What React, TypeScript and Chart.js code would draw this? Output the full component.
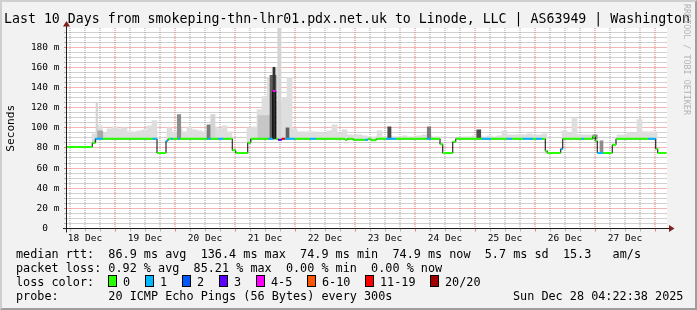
import React, { useEffect, useRef } from "react";
import { Chart, registerables } from "chart.js";

Chart.register(...registerables);

// ---------------- data ----------------
// x values are hours after 18 Dec 00:00
const X_MIN = 4.8;
const X_MAX = 244.8;
const Y_MAX = 199;

const dayLabels = ["18 Dec", "19 Dec", "20 Dec", "21 Dec", "22 Dec", "23 Dec", "24 Dec", "25 Dec", "26 Dec", "27 Dec"];
const dayLabelHours = [12, 36, 60, 84, 108, 132, 156, 180, 204, 228];

const yTickValues = [0, 20, 40, 60, 80, 100, 120, 140, 160, 180];
const yTickLabels = ["0  ", "20 m", "40 m", "60 m", "80 m", "100 m", "120 m", "140 m", "160 m", "180 m"];

// median rtt (ms) as steps: start hour, value, loss class
const medianStart = [
  4.8, 14.9, 16.1, 19.1, 39.1, 40.8, 44.4, 45.2, 46.4, 47.2, 49.2, 50.0, 60.9, 62.3, 65.3, 67.3,
  70.9, 72.3, 77.1, 78.3, 85.3, 87.1, 88.3, 89.2, 90.7, 92.0, 96.0, 102.0, 104.4, 116.0, 116.9,
  119.3, 124.0, 125.2, 126.4, 128.4, 132.4, 136.4, 148.7, 150.3, 154.0, 155.1, 159.1, 160.3,
  170.7, 174.4, 180.7, 182.7, 187.2, 191.2, 192.4, 194.8, 196.1, 196.9, 202.3, 203.1, 210.7,
  211.6, 215.1, 216.1, 216.9, 219.3, 222.9, 224.4, 237.3, 240.3, 241.1,
];
const medianValue = [
  81, 85, 89, 89, 89, 75, 87, 89, 89, 89, 89, 89, 89, 89, 89, 89,
  77.6, 75, 85, 89, 89, 136.4, 89, 88, 89, 89, 89, 89, 89, 88, 89,
  88, 88, 89, 87.5, 89, 89, 89, 89, 89, 83.5, 75, 86, 89,
  89, 89, 89, 89, 89, 89, 89, 89, 77, 75, 79, 89, 89,
  89, 91, 87, 75, 75, 83, 89, 89, 79, 75,
];
const medianLoss = [
  0, 0, 1, 0, 1, 0, 1, 0, 1, 0, 1, 0, 1, 0, 1, 0,
  0, 0, 0, 0, 1, 4, 0, 3, 6, 1, 0, 1, 0, 0, 0,
  0, 1, 0, 0, 0, 1, 0, 1, 0, 0, 0, 0, 0,
  1, 0, 1, 0, 1, 0, 1, 0, 0, 0, 1, 0, 1,
  0, 0, 0, 1, 0, 0, 0, 1, 0, 0,
];
const medianEnd = 244.5;

const lossLabels = ["0", "1", "2", "3", "4-5", "6-10", "11-19", "20/20"];

// smoke: upper ping value per 2-hour bucket from the graph start (0 = no smoke)
const smokeBucketHours = 2;
const smokeTop = [
  0, 0, 0, 0, 0, 94, 102, 95, 99, 101, 99, 100, 96, 96, 97, 98, 102, 107, 0, 0,
  100, 96, 99, 96, 101, 98, 97, 96, 102, 101, 99, 102, 96, 0, 0, 0, 100, 101, 118, 131,
  150, 160, 126, 130, 150, 99, 96, 96, 96, 96, 95, 95, 97, 103, 95, 98, 93, 93, 93, 92,
  91, 91, 97, 91, 92, 91, 91, 92, 91, 91, 92, 93, 92, 91, 91, 0, 0, 0, 0, 91,
  91, 92, 92, 91, 92, 91, 92, 97, 93, 93, 93, 93, 94, 93, 93, 94, 0, 0, 0, 97,
  95, 109, 93, 93, 93, 92, 0, 0, 0, 0, 93, 93, 95, 95, 108, 96, 96, 96, 0, 0,
];

// isolated smoke columns: hours, ping range (ms), density level
const spikeStart = [16.4, 17.1, 48.9, 60.8, 62.3, 81.2, 89.1, 86.0, 87.2, 92.4, 133.1, 148.9, 168.7, 215.1, 218.0];
const spikeEnd = [17.1, 19.1, 50.3, 62.3, 64.0, 86.8, 90.4, 88.4, 88.0, 93.6, 134.4, 150.3, 170.3, 216.9, 219.2];
const spikeLow = [89, 89, 89, 89, 89, 89, 89, 89, 89, 89, 89, 89, 89, 89, 75];
const spikeHigh = [125, 97, 113, 103, 113, 112, 199, 152, 160, 100, 101, 101, 98, 93, 87];
const spikeLevel = [0, 1, 2, 3, 0, 7, 0, 4, 6, 4, 5, 3, 5, 2, 2];

// ---------------- styles / layout ----------------
const MONO = "'DejaVu Sans Mono', monospace";
const LOSS_COLORS = ["#26ff00", "#00b8ff", "#0059ff", "#5e00ff", "#ff00ff", "#ff5500", "#ff0000", "#a10000"];
const SHADES = ["#d4d4d4", "#a8a8a8", "#8c8c8c", "#7a7a7a", "#606060", "#4a4a4a", "#303030", "#c6c6c6"];
const SMOKE_COLOR = "#dedede";
const MINOR_GRID = "rgba(143,143,143,0.85)";
const MAJOR_GRID = "rgba(222,79,79,0.8)";
const MINOR_TICK = "rgba(143,143,143,0.6)";
const MAJOR_TICK = "rgba(222,79,79,0.7)";
const PLOT_LEFT = 67;
const PLOT_RIGHT = 667;
const PLOT_TOP = 28;
const PLOT_BOTTOM = 228.5;
const W = 697;
const H = 310;
const PX_PER_HOUR = (PLOT_RIGHT - PLOT_LEFT) / (X_MAX - X_MIN);
const LEGEND_BOX_X = [108, 145, 182, 219, 256, 307, 365, 430];

const TITLE = "Last 10 Days from smokeping-thn-lhr01.pdx.net.uk to Linode, LLC | AS63949 | Washington";
const LINE_MEDIAN = "median rtt:  86.9 ms avg  136.4 ms max  74.9 ms min  74.9 ms now  5.7 ms sd  15.3   am/s";
const LINE_LOSS = "packet loss: 0.92 % avg  85.21 % max  0.00 % min  0.00 % now";
const LINE_PROBE = "probe:       20 ICMP Echo Pings (56 Bytes) every 300s";
const DATE_TEXT = "Sun Dec 28 04:22:38 2025";

const X_GRID: number[] = [];
for (let h = 6; h < X_MAX; h += 6) X_GRID.push(h);
const Y_GRID: number[] = [];
for (let v = 0; v < Y_MAX; v += 5) Y_GRID.push(v);

function medianAt(h: number): number {
  let v = medianValue[0];
  for (let i = 0; i < medianStart.length; i++) {
    if (medianStart[i] <= h) v = medianValue[i];
  }
  return v;
}

function buildDatasets(): any[] {
  const sets: any[] = [];
  const colored: any[] = [];
  for (let i = 0; i < medianStart.length; i++) {
    const end = i + 1 < medianStart.length ? medianStart[i + 1] : medianEnd;
    colored.push({ x: medianStart[i], y: medianValue[i] }, { x: end, y: medianValue[i] });
  }
  sets.push({
    type: "line",
    data: colored,
    order: 0,
    borderWidth: 2,
    borderColor: LOSS_COLORS[0],
    pointRadius: 0,
    tension: 0,
    fill: false,
    borderCapStyle: "butt",
    segment: {
      borderColor: (ctx: any) =>
        ctx.p0DataIndex % 2 === 0 ? LOSS_COLORS[medianLoss[ctx.p0DataIndex / 2]] : "rgba(0,0,0,0)",
    },
  });
  const black = medianStart.map((s, i) => ({ x: s, y: medianValue[i] }));
  black.push({ x: medianEnd, y: medianValue[medianValue.length - 1] });
  sets.push({
    type: "line",
    data: black,
    order: 1,
    borderWidth: 1,
    borderColor: "#000000",
    pointRadius: 0,
    stepped: "before",
    fill: false,
  });
  for (let i = 0; i < spikeStart.length; i++) {
    sets.push({
      type: "bar",
      data: [{ x: (spikeStart[i] + spikeEnd[i]) / 2, y: [spikeLow[i], spikeHigh[i]] }],
      backgroundColor: SHADES[spikeLevel[i]],
      borderWidth: 0,
      barThickness: (spikeEnd[i] - spikeStart[i]) * PX_PER_HOUR,
      stack: "smoke",
      order: 30 - i,
    });
  }
  const smoke: any[] = [];
  smokeTop.forEach((top, k) => {
    if (!top) return;
    const c = X_MIN + k * smokeBucketHours + smokeBucketHours / 2;
    const lo = medianAt(c);
    if (top > lo) smoke.push({ x: c, y: [lo, top] });
  });
  sets.push({
    type: "bar",
    data: smoke,
    backgroundColor: SMOKE_COLOR,
    borderWidth: 0,
    barThickness: smokeBucketHours * PX_PER_HOUR,
    stack: "smoke",
    order: 50,
  });
  return sets;
}

const bgPlugin = {
  id: "plotbg",
  beforeDraw(chart: any) {
    const { left, right, top, bottom } = chart.chartArea;
    const ctx = chart.ctx;
    ctx.save();
    ctx.fillStyle = "#ffffff";
    ctx.fillRect(left, top, right - left, bottom - top);
    ctx.restore();
  },
};

const gridPlugin = {
  id: "rrdgrid",
  beforeDatasetsDraw(chart: any) {
    const { left, right, top, bottom } = chart.chartArea;
    const xs = chart.scales.x;
    const ys = chart.scales.y;
    const ctx = chart.ctx;
    ctx.save();
    ctx.lineWidth = 1;
    X_GRID.forEach((h) => {
      const p = xs.getPixelForValue(h);
      const major = h % 24 === 0;
      ctx.strokeStyle = major ? MAJOR_GRID : MINOR_GRID;
      ctx.setLineDash([1, 1]);
      ctx.beginPath();
      ctx.moveTo(Math.round(p), top);
      ctx.lineTo(Math.round(p), bottom);
      ctx.stroke();
      ctx.setLineDash([]);
      ctx.strokeStyle = major ? MAJOR_TICK : MINOR_TICK;
      const pt = Math.floor(p + 0.001) + 0.5;
      ctx.beginPath();
      ctx.moveTo(pt, bottom);
      ctx.lineTo(pt, bottom + 3);
      ctx.stroke();
    });
    Y_GRID.forEach((v) => {
      const p = ys.getPixelForValue(v);
      const major = v % 20 === 0;
      const py = Math.floor(p + 0.001) + 0.5;
      ctx.strokeStyle = major ? MAJOR_GRID : MINOR_GRID;
      ctx.setLineDash([1, 1]);
      ctx.beginPath();
      ctx.moveTo(left + 0.5, py);
      ctx.lineTo(right, py);
      ctx.stroke();
      ctx.setLineDash([]);
      ctx.strokeStyle = major ? MAJOR_TICK : MINOR_TICK;
      ctx.beginPath();
      ctx.moveTo(left - 3, py);
      ctx.lineTo(left, py);
      ctx.stroke();
    });
    ctx.restore();
  },
};

const axesPlugin = {
  id: "axes",
  afterDraw(chart: any) {
    const { left, right, top, bottom } = chart.chartArea;
    const ctx = chart.ctx;
    const ax = Math.floor(left) - 0.5;
    ctx.save();
    ctx.strokeStyle = "#1f1f1f";
    ctx.lineWidth = 1;
    ctx.beginPath();
    ctx.moveTo(left - 4, bottom);
    ctx.lineTo(right + 3, bottom);
    ctx.moveTo(ax, bottom + 4);
    ctx.lineTo(ax, top - 3);
    ctx.stroke();
    ctx.fillStyle = "#801f1f";
    ctx.beginPath();
    ctx.moveTo(right + 7.5, bottom);
    ctx.lineTo(right + 2, bottom - 3.5);
    ctx.lineTo(right + 2, bottom + 3.5);
    ctx.closePath();
    ctx.fill();
    ctx.beginPath();
    ctx.moveTo(ax, top - 7);
    ctx.lineTo(ax - 3.5, top - 1.5);
    ctx.lineTo(ax + 3.5, top - 1.5);
    ctx.closePath();
    ctx.fill();
    ctx.restore();
  },
};

export default function App() {
  const ref = useRef<HTMLCanvasElement>(null);

  useEffect(() => {
    const canvas = ref.current;
    if (!canvas) return;
    const chart = new Chart(canvas, {
      type: "bar",
      data: { datasets: buildDatasets() },
      options: {
        responsive: false,
        animation: false,
        devicePixelRatio: 1,
        events: [],
        layout: { padding: { left: 0, right: W - PLOT_RIGHT, top: PLOT_TOP, bottom: 0 } },
        plugins: { legend: { display: false }, tooltip: { enabled: false }, title: { display: false } },
        scales: {
          x: {
            type: "linear",
            min: X_MIN,
            max: X_MAX,
            bounds: "data",
            offset: false,
            afterFit: (s: any) => {
              s.height = H - PLOT_BOTTOM;
            },
            afterBuildTicks: (s: any) => {
              s.ticks = X_GRID.map((v) => ({ value: v }));
            },
            ticks: {
              autoSkip: false,
              maxRotation: 0,
              minRotation: 0,
              padding: 4,
              color: "#000",
              font: { family: MONO, size: 9.5 },
              callback: (v: any) => {
                const i = dayLabelHours.indexOf(Number(v));
                return i >= 0 ? dayLabels[i] : "";
              },
            },
            grid: { display: false, drawTicks: false, tickLength: 0, offset: false },
            border: { display: false },
          },
          y: {
            type: "linear",
            min: 0,
            max: Y_MAX,
            bounds: "data",
            stacked: false,
            afterFit: (s: any) => {
              s.width = PLOT_LEFT;
            },
            afterBuildTicks: (s: any) => {
              s.ticks = Y_GRID.map((v) => ({ value: v }));
            },
            ticks: {
              autoSkip: false,
              padding: 7.5,
              color: "#000",
              font: { family: MONO, size: 9.5 },
              callback: (v: any) => {
                const i = yTickValues.indexOf(Number(v));
                return i >= 0 ? yTickLabels[i] : "";
              },
            },
            grid: { display: false, drawTicks: false, tickLength: 0 },
            border: { display: false },
            title: {
              display: true,
              text: "Seconds",
              color: "#000",
              font: { family: MONO, size: 11.2 },
              padding: { top: 4, bottom: 0 },
            },
          },
        },
      } as any,
      plugins: [bgPlugin, gridPlugin, axesPlugin],
    });
    return () => chart.destroy();
  }, []);

  const text = (left: number, top: number, s: string, size = 11.8, extra: any = {}) => (
    <div
      style={{
        position: "absolute",
        left,
        top,
        fontSize: size,
        lineHeight: "14px",
        whiteSpace: "pre",
        ...extra,
      }}
    >
      {s}
    </div>
  );

  return (
    <div
      style={{
        position: "absolute",
        left: 0,
        top: 0,
        width: W,
        height: H,
        background: "#f2f2f2",
        overflow: "hidden",
        fontFamily: MONO,
        color: "#000",
      }}
    >
      <canvas ref={ref} width={W} height={H} style={{ position: "absolute", left: 0, top: 0, width: W, height: H }} />
      {text(4, 10.6, TITLE, 13.25, { lineHeight: "16px" })}
      <div
        style={{
          position: "absolute",
          left: 682,
          top: 4,
          writingMode: "vertical-rl",
          fontSize: 8.4,
          lineHeight: "10px",
          color: "#b4b4b4",
          whiteSpace: "pre",
        }}
      >
        RRDTOOL / TOBI OETIKER
      </div>
      {text(16, 247.2, LINE_MEDIAN)}
      {text(16, 260.6, LINE_LOSS)}
      {text(16, 274.6, "loss color:")}
      {lossLabels.map((lab, i) => (
        <React.Fragment key={lab}>
          <div
            style={{
              position: "absolute",
              left: LEGEND_BOX_X[i],
              top: 275,
              width: 7,
              height: 10,
              border: "1px solid #000",
              background: LOSS_COLORS[i],
            }}
          />
          {text(LEGEND_BOX_X[i] + 15, 274.6, lab)}
        </React.Fragment>
      ))}
      {text(16, 288.9, LINE_PROBE)}
      {text(513, 288.9, DATE_TEXT)}
      <div
        style={{
          position: "absolute",
          left: 0,
          top: 0,
          width: W,
          height: H,
          boxSizing: "border-box",
          borderStyle: "solid",
          borderWidth: 2,
          borderColor: "#cfcfcf #9e9e9e #9e9e9e #cfcfcf",
          pointerEvents: "none",
        }}
      />
    </div>
  );
}
